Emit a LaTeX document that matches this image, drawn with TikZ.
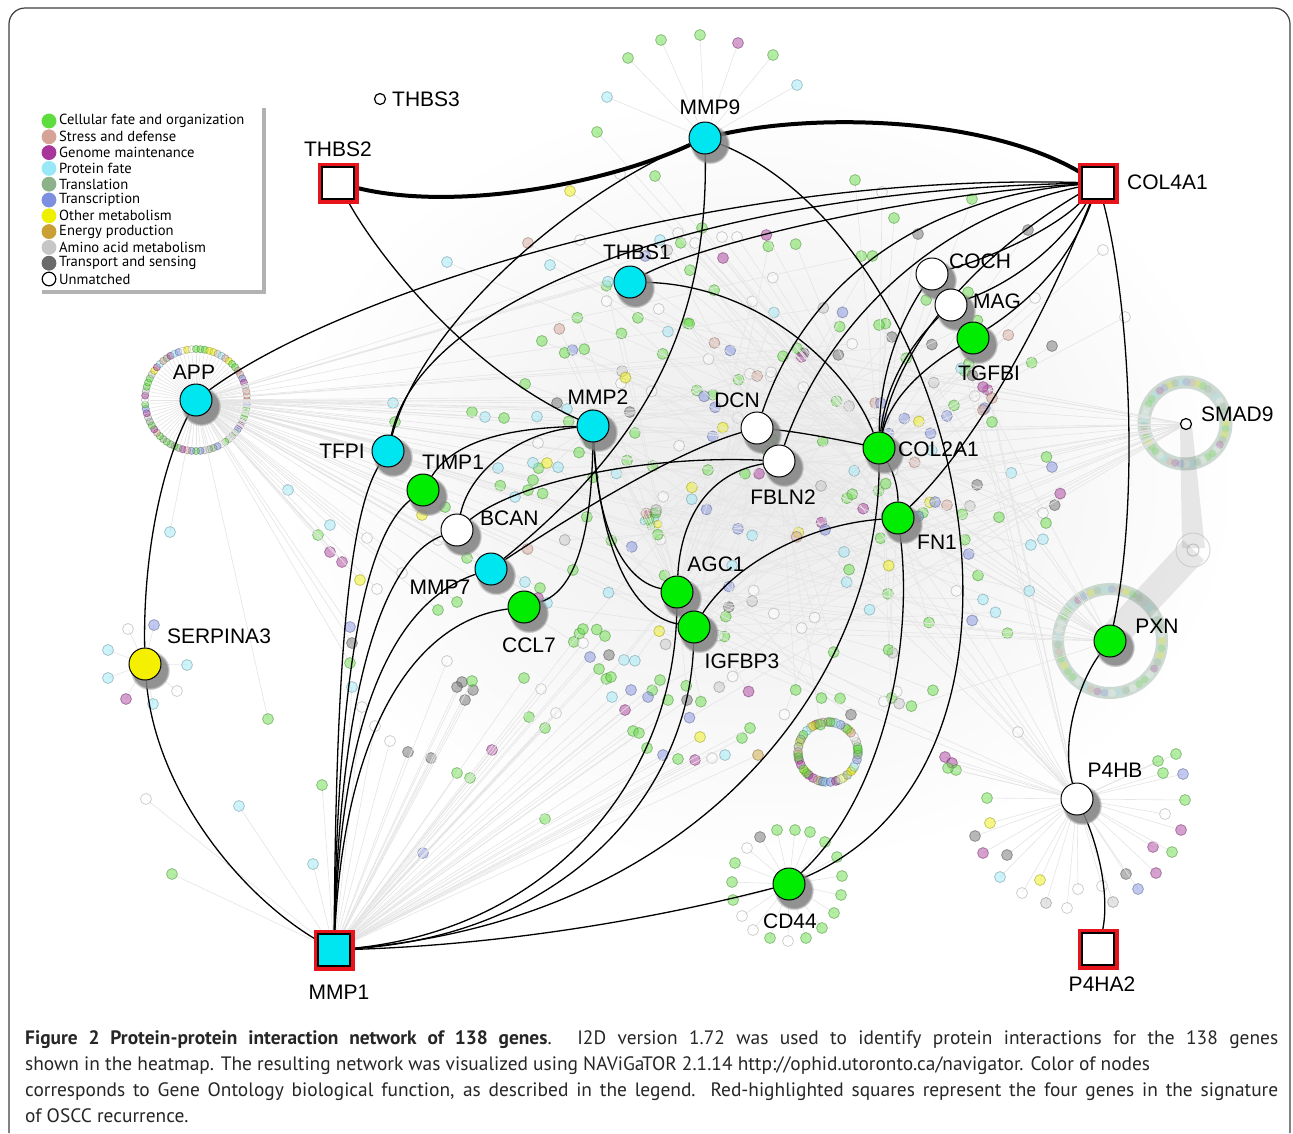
\documentclass[tikz,border=0pt]{standalone}
\usepackage{fontspec}
\setmainfont{Liberation Sans}
\newfontfamily\legfont{PT Sans}
\usetikzlibrary{shadows}

\definecolor{nodecyan}{HTML}{00E6F0}
\definecolor{nodegreen}{HTML}{00EC00}
\definecolor{nodeyellow}{HTML}{F4F000}
\definecolor{sigred}{HTML}{E8141B}
\definecolor{cG}{HTML}{5FDC3E}
\definecolor{cS}{HTML}{D6A496}
\definecolor{cM}{HTML}{A8369A}
\definecolor{cP}{HTML}{98E8F8}
\definecolor{cT}{HTML}{8DB189}
\definecolor{cR}{HTML}{7E8EE0}
\definecolor{cO}{HTML}{EEF000}
\definecolor{cE}{HTML}{C9A033}
\definecolor{cA}{HTML}{C6C6C6}
\definecolor{cX}{HTML}{6A6A6A}
\definecolor{cU}{HTML}{FFFFFF}
\definecolor{ringc}{HTML}{A3BDAE}

\pgfdeclarelayer{bg}
\pgfdeclarelayer{edges}
\pgfsetlayers{bg,edges,main}

\pgfmathdeclarerandomlist{dotcol}{{cG}{cG}{cG}{cG}{cG}{cG}{cG}{cG}{cG}{cU}{cU}{cU}{cP}{cP}{cX}{cA}{cM}{cR}{cS}{cO}}
\pgfmathdeclarerandomlist{ringcol}{{cG}{cG}{cS}{cM}{cP}{cT}{cO}{cA}{cU}{cR}}
\pgfmathdeclarerandomlist{hubs}{{MMP2}{COL2A1}{APP}{PXN}{FN1}{DCN}{SMAD9}{IGFBP3}{AGC1}{FBLN2}{P4HB}{APP}{COL2A1}}

\tikzset{
  gene/.style={circle, draw=black, line width=1pt, minimum size=32pt, inner sep=0pt, fill=#1,
    circular drop shadow={shadow xshift=4pt, shadow yshift=-5pt, shadow scale=1.25, opacity=0.85}},
  sig/.style={rectangle, minimum size=32pt, inner sep=0pt, fill=#1, draw=black, line width=1.2pt,
    drop shadow={shadow xshift=5pt, shadow yshift=-5pt, opacity=0.45},
    preaction={draw=sigred, line width=9pt}},
  tiny/.style={circle, draw=black, line width=1.2pt, minimum size=11pt, inner sep=0pt, fill=white},
  lab/.style={inner sep=0pt, font=\fontsize{21}{24}\selectfont},
  legtxt/.style={inner sep=0pt, anchor=west, font=\legfont\fontsize{14.6}{16}\selectfont},
  ed/.style={line width=1.3pt},
  thk/.style={line width=4pt},
  faint/.style={black!10, line width=0.6pt},
  dot/.style={draw=#1!60!black, fill=#1, line width=0.8pt, opacity=0.47},
}

\begin{document}
\begin{tikzpicture}[x=1pt, y=-1pt]
\useasboundingbox (0,0) rectangle (1293,1133);

% signature genes
\node[sig=white] (THBS2) at (338,183) {};
\node[sig=white] (COL4A1) at (1098,183) {};
\node[sig=nodecyan] (MMP1) at (334,950) {};
\node[sig=white] (P4HA2) at (1098,949) {};

% network genes
\node[gene=nodecyan] (MMP9) at (705,138) {};
\node[gene=nodecyan] (THBS1) at (630,282) {};
\node[gene=white] (COCH) at (932,274) {};
\node[gene=white] (MAG) at (951,305) {};
\node[gene=nodegreen] (TGFBI) at (973,338) {};
\node[gene=nodecyan] (APP) at (196,400) {};
\node[gene=nodecyan] (MMP2) at (593,426) {};
\node[gene=white] (DCN) at (757,428) {};
\node[gene=nodecyan] (TFPI) at (388,451) {};
\node[gene=nodegreen] (COL2A1) at (879,448) {};
\node[gene=nodegreen] (TIMP1) at (423,490) {};
\node[gene=white] (FBLN2) at (779,461) {};
\node[gene=white] (BCAN) at (457,530) {};
\node[gene=nodegreen] (FN1) at (898,518) {};
\node[gene=nodecyan] (MMP7) at (491,569) {};
\node[gene=nodegreen] (AGC1) at (677,592) {};
\node[gene=nodegreen] (CCL7) at (524,607) {};
\node[gene=nodegreen] (IGFBP3) at (694,627) {};
\node[gene=nodeyellow] (SERPINA3) at (145,664) {};
\node[gene=nodegreen] (PXN) at (1110,641) {};
\node[gene=white] (P4HB) at (1077,799) {};
\node[gene=nodegreen] (CD44) at (789,884) {};
\node[tiny] (THBS3) at (380,99) {};
\node[tiny] (SMAD9) at (1186,424) {};

% labels
\node[lab, anchor=west] (tTHBS3) at (392,99) {THBS3};
\node[lab] (tTHBS2) at (338,149) {THBS2};
\node[lab] (tMMP9) at (710,107) {MMP9};
\node[lab, anchor=west] (tCOL4A1) at (1127,182) {COL4A1};
\node[lab] (tTHBS1) at (637,252) {THBS1};
\node[lab, anchor=west] (tCOCH) at (949,261) {COCH};
\node[lab, anchor=west] (tMAG) at (973,301) {MAG};
\node[lab] (tTGFBI) at (989,373) {TGFBI};
\node[lab] (tAPP) at (194,372) {APP};
\node[lab, anchor=west] (tSMAD9) at (1201,414) {SMAD9};
\node[lab] (tMMP2) at (598,397) {MMP2};
\node[lab] (tDCN) at (737,400) {DCN};
\node[lab] (tTFPI) at (342,451) {TFPI};
\node[lab, anchor=west] (tCOL2A1) at (898,449) {COL2A1};
\node[lab] (tTIMP1) at (453,462) {TIMP1};
\node[lab] (tFBLN2) at (783,497) {FBLN2};
\node[lab, anchor=west] (tBCAN) at (480,518) {BCAN};
\node[lab] (tFN1) at (937,542) {FN1};
\node[lab] (tMMP7) at (440,587) {MMP7};
\node[lab] (tAGC1) at (716,564) {AGC1};
\node[lab] (tCCL7) at (529,645) {CCL7};
\node[lab] (tIGFBP3) at (742,661) {IGFBP3};
\node[lab] (tSERPINA3) at (219,636) {SERPINA3};
\node[lab] (tPXN) at (1157,626) {PXN};
\node[lab] (tP4HB) at (1115,770) {P4HB};
\node[lab] (tCD44) at (790,921) {CD44};
\node[lab] (tMMP1) at (339,992) {MMP1};
\node[lab] (tP4HA2) at (1102,984) {P4HA2};

% legend
\node[fill=white, minimum width=224pt, minimum height=186pt, inner sep=0pt,
  drop shadow={shadow xshift=4pt, shadow yshift=-4pt, opacity=0.6}] (legend) at (150,197) {};
\foreach \c/\b/\t [count=\i from 0] in {cG/cG/Cellular fate and organization, cS/cS/Stress and defense,
  cM/cM/Genome maintenance, cP/cP/Protein fate, cT/cT/Translation, cR/cR/Transcription,
  cO/cO/Other metabolism, cE/cE/Energy production, cA/cA/Amino acid metabolism,
  cX/cX/Transport and sensing, cU/black/Unmatched}{
  \pgfmathsetmacro\ly{121+15.8*\i}
  \filldraw[fill=\c, draw=\b, line width=1.2pt] (49,\ly) circle (6.8);
  \node[legtxt] (leg\i) at (59,\ly) {\t};
}

% caption
\node[anchor=north west, inner sep=0pt, align=left, text=black!85,
  font=\legfont\fontsize{19.4}{26}\selectfont] (caption) at (25,1030)
  {\makebox[1253pt][s]{\textbf{Figure 2 Protein-protein interaction network of 138 genes}. I2D version 1.72 was used to identify protein interactions for the 138 genes}\\
   shown in the heatmap. The resulting network was visualized using NAViGaTOR 2.1.14 http://ophid.utoronto.ca/navigator. Color of nodes\\
   \makebox[1253pt][s]{corresponds to Gene Ontology biological function, as described in the legend. Red-highlighted squares represent the four genes in the signature}\\
   of OSCC recurrence.};

\draw[black!75, line width=1.2pt, rounded corners=16pt] (9,1133) -- (9,8) -- (1290,8) -- (1290,1133);

\begin{pgfonlayer}{edges}
\draw[thk] (THBS2) .. controls (450,212) and (600,186) .. (MMP9);
\draw[thk] (MMP9) .. controls (820,112) and (990,118) .. (COL4A1);
\draw[ed] (THBS2) .. controls (380,260) and (470,370) .. (MMP2);
\draw[ed] (MMP9) .. controls (560,200) and (420,330) .. (TFPI);
\draw[ed] (APP) .. controls (330,300) and (700,172) .. (COL4A1);
\draw[ed] (TFPI) .. controls (420,300) and (700,190) .. (COL4A1);
\draw[ed] (THBS1) .. controls (700,245) and (900,195) .. (COL4A1);
\draw[ed] (THBS1) .. controls (760,285) and (850,370) .. (COL2A1);
\draw[ed] (MMP2) .. controls (510,428) and (455,440) .. (TIMP1);
\draw[ed] (MMP2) .. controls (520,432) and (470,470) .. (BCAN);
\draw[ed] (MMP2) .. controls (592,520) and (580,590) .. (CCL7);
\draw[ed] (MMP2) .. controls (597,520) and (620,580) .. (AGC1);
\draw[ed] (MMP2) .. controls (600,545) and (630,615) .. (IGFBP3);
\draw[ed] (MMP9) .. controls (708,320) and (650,440) .. (MMP7);
\draw[ed] (MMP7) .. controls (580,510) and (680,450) .. (DCN);
\draw[ed] (BCAN) .. controls (520,480) and (650,455) .. (FBLN2);
\draw[ed] (FBLN2) .. controls (700,475) and (680,530) .. (AGC1);
\draw[ed] (FN1) .. controls (800,525) and (730,570) .. (IGFBP3);
\draw[ed] (DCN) .. controls (800,432) and (840,440) .. (COL2A1);
\draw[ed] (DCN) .. controls (800,300) and (900,200) .. (COL4A1);
\draw[ed] (FBLN2) .. controls (820,340) and (920,220) .. (COL4A1);
\draw[ed] (COCH) .. controls (895,330) and (880,380) .. (COL2A1);
\draw[ed] (MAG) .. controls (905,350) and (885,390) .. (COL2A1);
\draw[ed] (TGFBI) .. controls (920,370) and (890,400) .. (COL2A1);
\draw[ed] (COCH) .. controls (1000,255) and (1060,225) .. (COL4A1);
\draw[ed] (MAG) .. controls (1020,280) and (1065,240) .. (COL4A1);
\draw[ed] (TGFBI) .. controls (1040,295) and (1075,250) .. (COL4A1);
\draw[ed] (COL2A1) .. controls (900,330) and (1000,240) .. (COL4A1);
\draw[ed] (FN1) .. controls (990,430) and (1060,280) .. (COL4A1);
\draw[ed] (PXN) .. controls (1140,500) and (1130,300) .. (COL4A1);
\draw[ed] (COL2A1) .. controls (895,475) and (898,490) .. (FN1);
\draw[ed] (PXN) .. controls (1080,680) and (1060,740) .. (P4HB);
\draw[ed] (P4HB) .. controls (1100,850) and (1110,900) .. (P4HA2);
\draw[ed] (APP) .. controls (160,470) and (143,560) .. (SERPINA3);
\draw[ed] (SERPINA3) .. controls (155,790) and (240,895) .. (MMP1);
\draw[ed] (MMP1) .. controls (336,700) and (345,520) .. (TFPI);
\draw[ed] (MMP1) .. controls (338,700) and (360,540) .. (TIMP1);
\draw[ed] (MMP1) .. controls (340,700) and (380,560) .. (BCAN);
\draw[ed] (MMP1) .. controls (342,700) and (400,600) .. (MMP7);
\draw[ed] (MMP1) .. controls (345,720) and (420,620) .. (CCL7);
\draw[ed] (MMP1) .. controls (550,930) and (675,780) .. (AGC1);
\draw[ed] (MMP1) .. controls (570,935) and (690,790) .. (IGFBP3);
\draw[ed] (MMP1) .. controls (700,920) and (880,680) .. (COL2A1);
\draw[ed] (MMP1) .. controls (500,945) and (650,920) .. (CD44);
\draw[ed] (FN1) .. controls (915,650) and (880,800) .. (CD44);
\draw[ed] (MMP9) .. controls (960,240) and (1080,760) .. (CD44);
\end{pgfonlayer}

\begin{pgfonlayer}{bg}
\fill[white] (0,0) rectangle (1293,1133);
\shade[inner color=black!8, outer color=white] (760,480) ellipse [x radius=480, y radius=390];
% rings
\foreach \a in {0,5,...,355}{
  \pgfmathrandomitem{\dc}{ringcol}
  \draw[faint] (APP.center) -- ++(\a:46);
  \draw[dot=\dc] (APP.center) ++(\a:51) circle (3.6);
}
\draw[ringc, opacity=0.55, line width=13pt] (1185,423) circle (41);
\draw[ringc, opacity=0.55, line width=12pt] (PXN.center) circle (52);
\foreach \a in {0,8,...,352}{
  \pgfmathrandomitem{\dc}{ringcol}
  \fill[\dc, opacity=0.25] (1185,423) ++(\a:41) circle (4);
  \fill[\dc, opacity=0.25] (PXN.center) ++(\a:52) circle (4);
}
\fill[black, opacity=0.09] (1180,426) -- (1192,426) -- (1205,548) -- (1182,548) -- cycle;
\fill[black, opacity=0.09] (1183,540) -- (1204,560) -- (1122,648) -- (1100,630) -- cycle;
\draw[black!25, opacity=0.6, line width=1pt] (1193,550) circle (17);
\draw[black!35, opacity=0.6, line width=1pt] (1193,550) circle (6);
\foreach \a in {0,7,...,353}{
  \pgfmathrandomitem{\dc}{ringcol}
  \draw[dot=\dc] (828,752) ++(\a*5:30) circle (4.5);
}
\foreach \x/\y/\c in {648/514/cM, 655/518/cP, 651/526/cG, 658/524/cO, 644/521/cP, 654/512/cG}
  \draw[dot=\c] (\x,\y) circle (4);
% scattered genes in the middle
\pgfmathsetseed{4242}
\foreach \i in {1,...,230}{
  \pgfmathsetmacro\rr{sqrt(rnd)}
  \pgfmathsetmacro\aa{360*rnd}
  \pgfmathsetmacro\px{780+285*\rr*cos(\aa)}
  \pgfmathsetmacro\py{480+255*\rr*sin(\aa)}
  \pgfmathrandomitem{\dc}{dotcol}
  \pgfmathrandomitem{\hb}{hubs}
  \draw[faint] (\px,\py) -- (\hb);
  \draw[dot=\dc] (\px,\py) circle (5.5);
}
% scattered genes, upper part
\foreach \x/\y/\c in {628/58/cG, 661/40/cG, 700/35/cG, 738/43/cM, 773/55/cG, 797/85/cP, 607/97/cP}{
  \draw[faint] (\x,\y) -- (MMP9);
  \draw[dot=\c] (\x,\y) circle (5.5);
}
\foreach \x/\y/\c in {597/132/cG, 570/191/cO, 620/174/cU, 655/176/cG, 528/243/cS, 447/262/cP,
  580/240/cU, 550/265/cP, 678/233/cU, 695/243/cU, 722/237/cU, 737/237/cU, 702/228/cG,
  723/258/cM, 660/240/cP, 855/180/cG, 882/192/cU, 972/199/cG, 894/218/cG, 918/234/cX,
  1028/230/cX, 1103/250/cU, 1035/298/cU, 1125/317/cU, 1052/346/cX, 983/387/cM, 992/398/cS,
  983/410/cS, 992/422/cG, 1052/467/cR, 1043/513/cU, 1046/523/cG}{
  \draw[faint] (\x,\y) -- (COL2A1);
  \draw[dot=\c] (\x,\y) circle (5.5);
}
% scattered genes, left part
\foreach \x/\y/\c in {393/403/cP, 395/422/cG, 472/412/cG, 485/417/cP, 504/418/cG, 557/403/cX,
  567/409/cP, 538/443/cU, 547/463/cO, 498/468/cP, 533/480/cG, 515/497/cP, 445/507/cG,
  422/515/cO, 438/540/cU, 367/538/cU, 318/535/cG, 330/525/cP, 288/490/cP, 330/552/cM,
  342/562/cM, 360/580/cO, 377/589/cU, 402/573/cU, 467/558/cG, 525/582/cP, 540/588/cG,
  538/598/cM, 547/603/cP, 350/627/cR, 352/643/cX, 350/663/cG, 438/610/cG, 457/602/cG,
  170/532/cP, 268/719/cG}{
  \draw[faint] (\x,\y) -- (APP);
  \draw[dot=\c] (\x,\y) circle (5.5);
}
\foreach \x/\y/\c in {322/785/cG, 423/853/cR, 313/864/cP, 545/819/cG, 457/773/cG, 470/778/cG,
  492/750/cM, 408/752/cX, 431/758/cX, 390/741/cU, 375/726/cU, 362/707/cU, 352/687/cP,
  462/682/cX, 473/690/cX, 457/687/cX, 465/700/cX, 472/681/cG, 447/661/cU, 524/678/cG,
  541/689/cU, 556/713/cU, 529/717/cG, 545/728/cG, 583/629/cG, 605/636/cG, 583/643/cU,
  590/657/cR, 609/655/cX, 599/669/cG, 611/677/cG, 612/697/cP, 631/690/cR, 648/697/cR,
  625/710/cM, 660/680/cG, 668/700/cG, 687/700/cX, 633/731/cG, 639/733/cG, 647/748/cG,
  663/755/cR, 678/759/cG, 695/760/cM, 712/758/cU, 725/755/cP, 700/737/cO, 742/738/cG,
  750/728/cG, 758/755/cE, 239/806/cP, 146/799/cU, 172/874/cG}{
  \draw[faint] (\x,\y) -- (MMP1);
  \draw[dot=\c] (\x,\y) circle (5.5);
}
\foreach \x/\y/\c in {187/665/cP, 177/691/cU, 153/704/cP, 126/699/cM, 108/678/cP, 108/650/cP,
  128/629/cU, 154/625/cR}{
  \draw[faint] (\x,\y) -- (SERPINA3);
  \draw[dot=\c] (\x,\y) circle (5.5);
}
\foreach \x/\y/\c in {777/830/cG, 795/830/cG, 760/837/cX, 747/848/cU, 735/863/cG, 732/882/cG,
  733/900/cG, 742/916/cU, 753/930/cU, 770/938/cG, 788/941/cU, 806/938/cG, 822/928/cG,
  834/913/cG, 841/895/cG, 842/876/cG, 837/857/cG, 825/842/cG, 810/832/cG}{
  \draw[faint] (\x,\y) -- (CD44);
  \draw[dot=\c] (\x,\y) circle (5.5);
}
\foreach \x/\y/\c in {1018/732/cU, 987/798/cG, 990/823/cO, 975/836/cX, 983/853/cM, 1007/855/cX,
  1000/877/cP, 1040/880/cO, 1022/893/cU, 1046/903/cA, 1067/908/cU, 1078/889/cU, 1102/886/cU,
  1113/902/cA, 1126/874/cX, 1138/889/cR, 1156/873/cM, 1153/847/cM, 1172/852/cG, 1181/830/cM,
  1165/814/cU, 1185/800/cG, 1183/774/cR, 1176/754/cG, 1158/761/cG, 1163/773/cG,
  945/757/cM, 952/763/cM, 956/770/cG, 948/768/cG}{
  \draw[faint] (\x,\y) -- (P4HB);
  \draw[dot=\c] (\x,\y) circle (5.5);
}
\end{pgfonlayer}
\end{tikzpicture}
\end{document}
